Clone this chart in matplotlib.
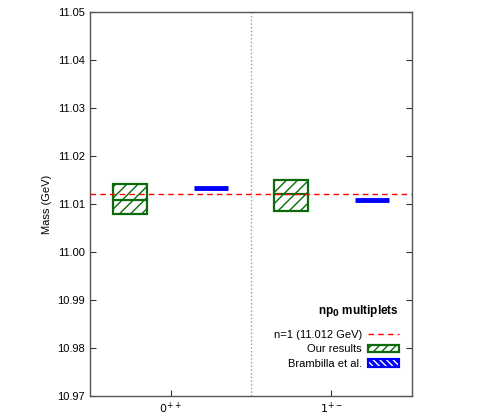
import matplotlib
matplotlib.use("Agg")
import matplotlib.pyplot as plt
from matplotlib.patches import Rectangle, Patch
from matplotlib.lines import Line2D
from matplotlib.legend_handler import HandlerTuple

plt.rcParams['font.family'] = ['Liberation Sans', 'DejaVu Sans']

categories = [r'$0^{++}$', r'$1^{+-}$']
cat_pos = [0.5, 1.5]
our_center = [11.0108, 11.0120]
our_low = [11.0079, 11.0086]
our_high = [11.0142, 11.0149]
brambilla = [11.0134, 11.0109]
n1_mass = 11.012

fig = plt.figure(figsize=(5.02, 4.2), dpi=100)
ax = fig.add_axes([90/502, 24/420, 322/502, 384/420])

green = '#0b6b0b'
hw = 0.105
for xc, c, lo, hi, b in zip(cat_pos, our_center, our_low, our_high, brambilla):
    x0 = xc - 0.25
    ax.add_patch(Rectangle((x0 - hw, lo), 2*hw, hi - lo, facecolor='white',
                           edgecolor=green, hatch='///', lw=1.6, zorder=3))
    ax.plot([x0 - hw, x0 + hw], [c, c], color=green, lw=1.6, zorder=4)
    x1 = xc + 0.25
    ax.plot([x1 - hw, x1 + hw], [b, b], color='#0000ff', lw=3.5, zorder=4,
            solid_capstyle='butt')

ax.axhline(n1_mass, color='red', ls=(0, (4, 3)), lw=1, zorder=5)
ax.axvline(1.0, color='#999999', ls=':', lw=1, zorder=1)

ax.set_xlim(0, 2)
ax.set_ylim(10.97, 11.05)
ax.set_xticks(cat_pos)
ax.set_xticklabels(categories, fontsize=8)
ax.set_yticks([10.97 + 0.01*i for i in range(9)])
ax.set_yticklabels([f'{10.97 + 0.01*i:.2f}' for i in range(9)], fontsize=8)
ax.tick_params(direction='in', length=4, right=True, top=False, width=0.8, colors='#333333', labelcolor='black')
for s in ax.spines.values():
    s.set_color('#555555')
    s.set_linewidth(1)
ax.set_ylabel('Mass (GeV)', fontsize=8, labelpad=4)

h_line = Line2D([], [], color='red', ls=(0, (4, 3)), lw=1)
h_our = Patch(facecolor='white', edgecolor=green, hatch='////', lw=1.6)
h_bram = (Patch(facecolor='#0000ff', edgecolor='#0000ff', lw=1.5),
          Patch(facecolor='none', edgecolor='white', hatch='\\\\\\\\\\', lw=0),
          Patch(facecolor='none', edgecolor='#0000ff', lw=1.5))
leg = ax.legend([h_line, h_our, h_bram],
                ['n=1 (11.012 GeV)', 'Our results', 'Brambilla et al.'],
                handler_map={tuple: HandlerTuple(ndivide=1, pad=0)},
                title=r'np$_\mathbf{0}$ multiplets', title_fontproperties={'weight': 'bold', 'size': 8.5},
                markerfirst=False, frameon=False, fontsize=8,
                loc='lower right', bbox_to_anchor=(0.99, 0.045),
                handlelength=2.8, handleheight=0.7, labelspacing=0.38,
                handletextpad=0.5, alignment='right')
leg._legend_box.sep = 8

fig.savefig('out.png', dpi=100)
